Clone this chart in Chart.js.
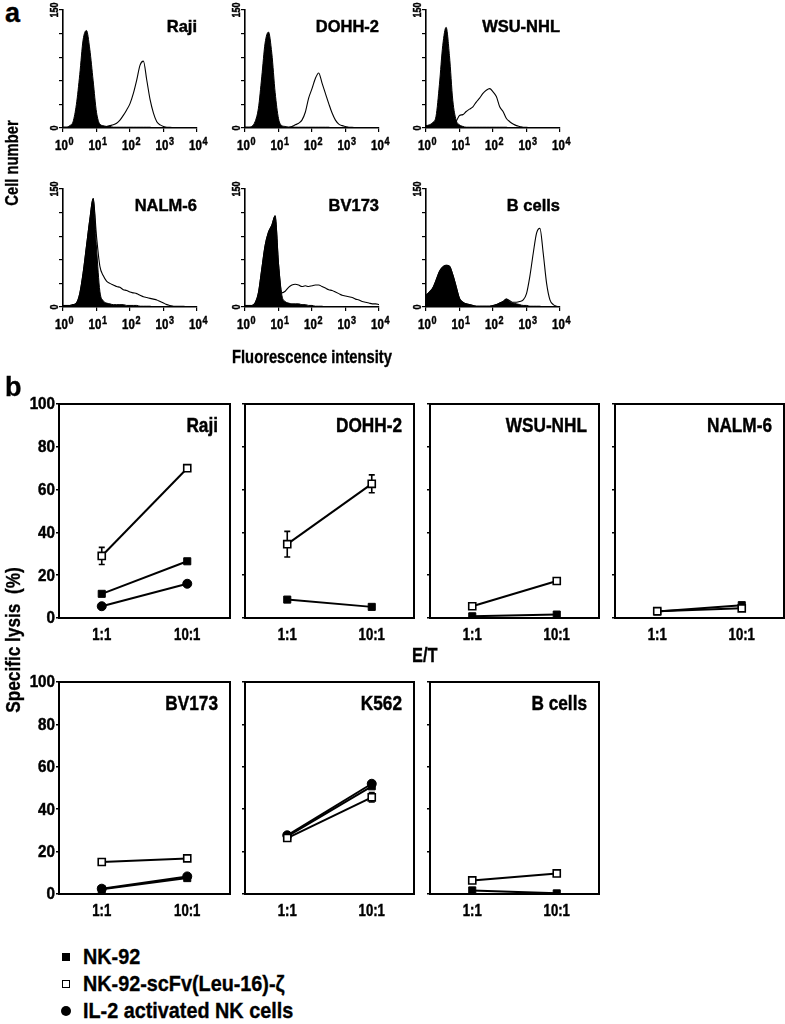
<!DOCTYPE html>
<html><head><meta charset="utf-8">
<script src="https://cdn.jsdelivr.net/npm/chart.js@4"></script>
<style>
html,body{margin:0;padding:0;background:#fff}
body{width:785px;height:1024px;position:relative;overflow:hidden;font-family:'Liberation Sans',Arial,sans-serif;color:#000}
canvas{position:absolute}
.t{position:absolute;font-weight:bold;white-space:pre;line-height:1;color:#000;-webkit-text-stroke:0.35px #000}
.nar{transform-origin:0 50%;transform:scaleX(0.82)}
.rot{transform:translate(-50%,-50%) rotate(-90deg) scaleX(0.82)}
.mk{position:absolute;background:#000;box-sizing:border-box}
</style></head><body>
<script>
// ---------- DATA ----------
const logBins = [0.0,0.1,0.2,0.3,0.4,0.5,0.6,0.7,0.8,0.9,1.0,1.1,1.2,1.3,1.4,1.5,1.6,1.7,1.8,1.9,2.0,2.1,2.2,2.3,2.4,2.5,2.6,2.7,2.8,2.9,3.0,3.1,3.2,3.3,3.4,3.5,3.6,3.7,3.8,3.9,4.0];
const decadeExps = [0,1,2,3,4];
const histYLabels = [0,150];
const histTitles = ['Raji','DOHH-2','WSU-NHL','NALM-6','BV173','B cells'];

const rajiCtrl  = [1,1,3,8,30,68,112,124,100,60, 20,5,3,2,2,1,1,1,1,1, 1,1,1,1,1,1,1,0,0,0, 0,0,0,0,0,0,0,0,0,0, 0];
const rajiCD20  = [1,1,1,1,1,1,1,1,1,1, 1,1,1,2,3,4,6,10,16,23, 31,44,61,80,85,61,36,19,8,4, 2,1,1,0,0,0,0,0,0,0, 0];
const dohhCtrl  = [1,1,2,8,25,65,108,122,95,45, 12,3,2,1,1,1,1,1,1,1, 1,1,1,1,1,1,0,0,0,0, 0,0,0,0,0,0,0,0,0,0, 0];
const dohhCD20  = [1,1,1,1,1,1,1,1,1,1, 1,1,1,1,2,4,6,10,20,38, 50,63,70,57,44,31,19,10,5,3, 2,1,1,0,0,0,0,0,0,0, 0];
const wsuCtrl   = [3,4,7,15,55,105,128,92,35,10, 4,2,1,1,1,1,1,1,1,1, 1,1,1,1,1,0,0,0,0,0, 0,0,0,0,0,0,0,0,0,0, 0];
const wsuCD20   = [1,1,1,1,1,1,1,1,1,8, 16,17,21,24,27,33,38,44,48,50, 46,40,27,21,12,8,5,3,2,1, 1,0,0,0,0,0,0,0,0,0, 0];
const nalmCtrl  = [2,2,2,3,5,17,43,77,111,138, 75,20,8,5,4,3,3,3,3,2, 2,2,2,1,1,1,1,0,0,0, 0,0,0,0,0,0,0,0,0,0, 0];
const nalmCD20  = [2,2,2,3,5,17,43,77,111,138, 90,52,40,33,30,28,26,25,22,21, 19,18,17,15,13,12,11,10,9,7, 5,3,2,1,1,1,1,0,0,0, 0];
const bvCtrl    = [2,2,2,5,18,48,78,95,104,116, 55,15,7,5,4,4,4,3,3,2, 2,1,1,1,0,0,0,0,0,0, 0,0,0,0,0,0,0,0,0,0, 0];
const bvCD20    = [2,2,2,5,18,48,78,95,104,116, 55,18,20,25,28,29,28,26,27,26, 27,28,28,26,24,22,21,19,17,15, 14,13,12,10,9,7,6,5,4,4, 3];
const bcellCtrl = [15,19,24,34,45,51,53,52,41,26, 11,6,4,3,2,1,1,1,1,1, 2,3,5,7,10,7,5,4,3,2, 2,1,1,1,1,0,0,0,0,0, 0];
const bcellCD20 = [15,19,24,34,45,51,53,52,41,26, 11,6,4,3,2,1,1,1,1,1, 2,3,5,7,10,8,6,6,7,9, 17,39,68,94,100,68,30,9,3,1, 0];

const etLabels = ['1:1','10:1'];
const lysisTitles = ['Raji','DOHH-2','WSU-NHL','NALM-6','BV173','K562','B cells'];
const nk92     = [[11.3,26.5],[8.6,5.2],[0.8,1.6],[3.0,6.0],[2.2,7.5],[27.2,50.8],[1.7,0.3]];
const scfv     = [[29,70],[34.5,62.7],[5.5,17.3],[3.2,4.5],[15.1,16.8],[26.4,45.6],[6.4,9.7]];
const scfvErr  = [[4,1],[6,4.2],[0.5,1.5],[0.5,0.8],[0.4,0.5],[1.5,2.2],[0.5,0.8]];
const il2      = [[5.5,16],[null,null],[null,null],[null,null],[2.5,8.3],[27.7,52],[null,null]];
const yTicksLysis = [0,20,40,60,80,100];
const legendLabels = ['NK-92','NK-92-scFv(Leu-16)-ζ','IL-2 activated NK cells'];

// ---------- HELPERS ----------
const FONT = "'Liberation Sans',Arial,sans-serif";
const SQ = 0.82; // horizontal condensing of the figure's narrow bold typeface

function makeCanvas(left, top, w, h){
  const c = document.createElement('canvas');
  c.width = w; c.height = h;
  c.style.left = left+'px'; c.style.top = top+'px';
  c.style.width = w+'px'; c.style.height = h+'px';
  document.body.appendChild(c);
  return c;
}
function addText(txt, css, cls){
  const d = document.createElement('div');
  d.className = 't' + (cls ? ' '+cls : '');
  d.textContent = txt;
  d.style.cssText += css;
  document.body.appendChild(d);
  return d;
}
function narrowText(ctx, text, x, y, align, sq){
  ctx.save();
  ctx.translate(x, y);
  ctx.scale(sq || SQ, 1);
  ctx.textAlign = align;
  ctx.fillText(text, 0, 0);
  ctx.strokeStyle = '#000'; ctx.lineWidth = 0.45;
  ctx.strokeText(text, 0, 0);
  ctx.restore();
}

// ---------- HISTOGRAMS ----------
const histPlugin = {
  id:'histLabels',
  afterDraw(chart, args, opts){
    const {ctx, chartArea:a, scales:{x,y}} = chart;
    ctx.save();
    ctx.fillStyle = '#000';
    ctx.textBaseline = 'alphabetic';
    ctx.font = `bold 17px ${FONT}`;
    narrowText(ctx, opts.title, a.right, a.top + 22, 'right', 0.97);
    decadeExps.forEach(e => {
      const px = x.getPixelForValue(e);
      ctx.font = `bold 14px ${FONT}`; const w1 = ctx.measureText('10').width * SQ;
      ctx.font = `bold 11px ${FONT}`; const w2 = ctx.measureText(String(e)).width * SQ;
      const s = px - (w1 + w2) / 2 + 1;
      ctx.font = `bold 14px ${FONT}`; narrowText(ctx, '10', s, a.bottom + 22, 'left');
      ctx.font = `bold 11px ${FONT}`; narrowText(ctx, String(e), s + w1 + 0.5, a.bottom + 17, 'left');
    });
    histYLabels.forEach(v => {
      const py = y.getPixelForValue(v);
      ctx.save();
      ctx.translate(a.left - 5, py);
      ctx.rotate(-Math.PI/2);
      ctx.font = `bold 11px ${FONT}`;
      narrowText(ctx, String(v), 0, 0, 'center');
      ctx.restore();
    });
    ctx.restore();
  }
};

function histChart(i, L, T, ctrl, cd20){
  const PL=40, PT=12, PR=22, PB=36, W=134, H=118;
  const cv = makeCanvas(L-PL, T-PT, W+PL+PR, H+PT+PB);
  const axisCommon = {
    grid:{drawOnChartArea:false, color:'#000', tickLength:4, lineWidth:1.2},
    border:{display:true, color:'#000', width:1.6}
  };
  new Chart(cv, {
    type:'line',
    data:{datasets:[
      {data: ctrl.map((v,k)=>({x:logBins[k], y:v})), fill:'origin', backgroundColor:'#000', borderColor:'#000', borderWidth:1, pointRadius:0, cubicInterpolationMode:'monotone', order:0},
      {data: cd20.map((v,k)=>({x:logBins[k], y:v})), fill:false, borderColor:'#000', borderWidth:1.1, pointRadius:0, cubicInterpolationMode:'monotone', order:1}
    ]},
    options:{
      responsive:false, animation:false, devicePixelRatio:1,
      layout:{padding:{top:PT, right:PR, left:0, bottom:0}},
      plugins:{legend:{display:false}, tooltip:{enabled:false}, histLabels:{title:histTitles[i]}},
      scales:{
        x:{type:'linear', min:0, max:4, ticks:{stepSize:1, display:false}, ...axisCommon, afterFit:s=>{s.height=PB;}},
        y:{type:'linear', min:0, max:150, ticks:{stepSize:30, display:false}, ...axisCommon, afterFit:s=>{s.width=PL;}}
      }
    },
    plugins:[histPlugin]
  });
}

const histRowsT = [10, 189];
const histColsL = [63, 245, 426];
const histData = [[rajiCtrl,rajiCD20],[dohhCtrl,dohhCD20],[wsuCtrl,wsuCD20],[nalmCtrl,nalmCD20],[bvCtrl,bvCD20],[bcellCtrl,bcellCD20]];
histData.forEach((d,i) => histChart(i, histColsL[i%3], histRowsT[Math.floor(i/3)], d[0], d[1]));

// ---------- LYSIS ----------
const lysisPlugin = {
  id:'lysis',
  beforeDatasetsDraw(chart){
    const {ctx, scales:{y}} = chart;
    ctx.save();
    ctx.strokeStyle = '#000'; ctx.lineWidth = 1.6;
    chart.data.datasets.forEach((ds, di) => {
      if (!ds.errorBars) return;
      const meta = chart.getDatasetMeta(di);
      ds.data.forEach((v, j) => {
        if (v == null) return;
        const e = ds.errorBars[j];
        const px = meta.data[j].x;
        const y1 = y.getPixelForValue(v + e), y2 = y.getPixelForValue(v - e);
        ctx.beginPath();
        ctx.moveTo(px, y1); ctx.lineTo(px, y2);
        ctx.moveTo(px-3, y1); ctx.lineTo(px+3, y1);
        ctx.moveTo(px-3, y2); ctx.lineTo(px+3, y2);
        ctx.stroke();
      });
    });
    ctx.restore();
  },
  afterDraw(chart, args, opts){
    const {ctx, chartArea:a, scales:{x,y}} = chart;
    ctx.save();
    ctx.strokeStyle = '#000'; ctx.lineWidth = 2;
    ctx.strokeRect(a.left, a.top, a.right - a.left, a.bottom - a.top);
    ctx.fillStyle = '#000';
    ctx.textBaseline = 'alphabetic';
    ctx.font = `bold 21px ${FONT}`;
    narrowText(ctx, opts.title, a.right - 12, a.top + 28, 'right');
    ctx.font = `bold 16px ${FONT}`;
    ctx.textBaseline = 'middle';
    etLabels.forEach((lab, j) => narrowText(ctx, lab, x.getPixelForValue(j), a.bottom + 18, 'center'));
    if (opts.showY) yTicksLysis.forEach(v => narrowText(ctx, String(v), a.left - 4, y.getPixelForValue(v) + 1, 'right', 0.95));
    ctx.restore();
  }
};

function lysisChart(i, L, T, W, H, showY){
  const PL=50, PT=14, PR=8, PB=36;
  const cv = makeCanvas(L-PL, T-PT, W+PL+PR, H+PT+PB);
  const ds = [];
  ds.push({label:legendLabels[1], data:scfv[i], errorBars:scfvErr[i], borderColor:'#000', borderWidth:2,
    pointStyle:'rect', pointRadius:5, pointBackgroundColor:'#fff', pointBorderColor:'#000', pointBorderWidth:1.6, order:0});
  ds.push({label:legendLabels[0], data:nk92[i], borderColor:'#000', borderWidth:2,
    pointStyle:'rect', pointRadius:5, pointBackgroundColor:'#000', pointBorderColor:'#000', pointBorderWidth:1, order:1});
  if (il2[i].some(v => v != null)) ds.push({label:legendLabels[2], data:il2[i], borderColor:'#000', borderWidth:2,
    pointStyle:'circle', pointRadius:4.5, pointBackgroundColor:'#000', pointBorderColor:'#000', pointBorderWidth:1, order:2});
  new Chart(cv, {
    type:'line',
    data:{labels:etLabels, datasets:ds},
    options:{
      responsive:false, animation:false, devicePixelRatio:1,
      layout:{padding:{top:PT, right:PR, left:0, bottom:0}},
      plugins:{legend:{display:false}, tooltip:{enabled:false}, lysis:{title:lysisTitles[i], showY:showY}},
      scales:{
        x:{type:'category', offset:true, grid:{display:false}, border:{display:false},
           ticks:{display:false}, afterFit:s=>{s.height=PB;}},
        y:{min:0, max:100, afterBuildTicks:s=>{s.ticks = yTicksLysis.map(v=>({value:v}));},
           grid:{drawOnChartArea:false, color:'#000', tickLength:3, lineWidth:1.5}, border:{display:false},
           ticks:{display:false}, afterFit:s=>{s.width=PL;}}
      }
    },
    plugins:[lysisPlugin]
  });
}

const lysisRowsT = [404, 682];
const lysisRowsH = [214, 212];
const lysisColsL = [59, 245, 430, 615];
const lysisColsW = [171, 169, 169, 169];
lysisTitles.forEach((t,i) => {
  const r = Math.floor(i/4), c = i%4;
  lysisChart(i, lysisColsL[c], lysisRowsT[r], lysisColsW[c], lysisRowsH[r], c === 0);
});

// ---------- TEXTS ----------
addText('a', `left:5px;top:0px;font-size:27px;`);
addText('b', `left:5px;top:374px;font-size:27px;`);
addText('Cell number', `left:12px;top:163px;font-size:18px;`, 'rot');
addText('Fluorescence intensity', `left:232px;top:348px;font-size:18px;`, 'nar');
addText('Specific lysis  (%)', `left:12px;top:640px;font-size:21px;`, 'rot');
addText('E/T', `left:412px;top:645px;font-size:20px;`, 'nar');

// ---------- LEGEND ----------
const legendY = [957, 984, 1011];
legendLabels.forEach((lab, k) => {
  const m = document.createElement('div');
  m.className = 'mk';
  const cy = legendY[k];
  if (k === 0) m.style.cssText += `left:62px;top:${cy-4}px;width:8px;height:8px;`;
  if (k === 1) m.style.cssText += `left:62px;top:${cy-4}px;width:8px;height:8px;background:#fff;border:1.5px solid #000;`;
  if (k === 2) m.style.cssText += `left:61px;top:${cy-5}px;width:10px;height:10px;border-radius:50%;`;
  document.body.appendChild(m);
  const d = addText(lab, `left:83px;top:${cy-11}px;font-size:22px;`);
  d.style.transformOrigin = '0 50%';
  d.style.transform = 'scaleX(0.9)';
});
</script>
</body></html>
